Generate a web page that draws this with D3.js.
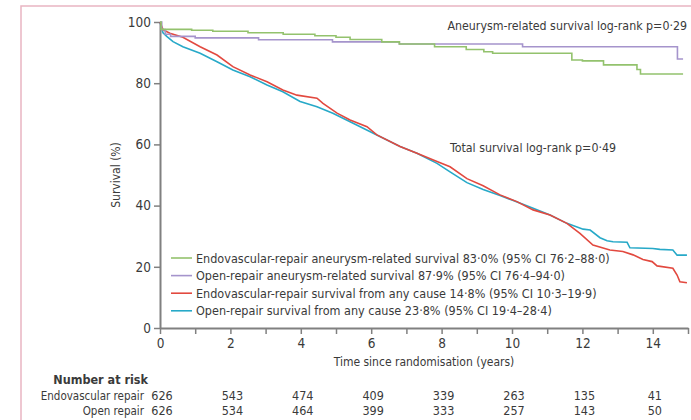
<!DOCTYPE html>
<html>
<head>
<meta charset="utf-8">
<script src="https://cdn.jsdelivr.net/npm/d3@7"></script>
<style>
  body { margin: 0; background: #fff; }
  svg text { font-family: "Liberation Sans Narrow", "DejaVu Sans Condensed", "Noto Sans", sans-serif; fill: #3a3a3a; }
</style>
</head>
<body>
<div id="chart"></div>
<script>
// survival curves, [years, survival %]
let endoAneurysm = [[0, 100], [0.03, 97.6], [0.9, 97.3], [1.5, 97.0], [2.5, 96.5], [3.5, 96.0], [4.4, 95.5],
  [5.0, 95.0], [5.4, 94.3], [6.3, 93.5], [6.8, 92.8], [7.8, 91.9], [8.7, 91.0], [9.2, 90.3], [9.45, 89.8],
  [11.7, 87.6], [12.0, 87.3], [12.6, 86.0], [13.55, 84.5], [13.65, 83.0], [14.86, 83.0]];
let openAneurysm = [[0, 100], [0.05, 97.5], [0.15, 96.0], [0.3, 95.3], [1.0, 94.8], [2.8, 94.2], [4.9, 93.5],
  [6.8, 92.8], [10.3, 91.9], [14.7, 87.9], [14.86, 87.9]];
let endoTotal = [[0, 100], [0.085, 97.5], [0.28, 96.3], [0.65, 95.0], [1.14, 91.9], [1.62, 89.2], [2.07, 85.4],
  [2.56, 82.7], [3.04, 80.5], [3.49, 77.8], [3.89, 76.1], [4.46, 75.1], [4.63, 73.4], [5.03, 70.2], [5.4, 68.0],
  [5.88, 65.8], [6.16, 63.1], [6.82, 59.3], [7.3, 57.1], [7.87, 54.4], [8.24, 52.7], [8.72, 48.8], [9.18, 46.5],
  [9.66, 43.5], [10.14, 41.3], [10.6, 38.6], [11.08, 36.9], [11.56, 34.2], [11.93, 30.9], [12.3, 27.1],
  [12.78, 25.5], [13.15, 25.0], [13.44, 23.9], [13.72, 22.4], [13.98, 21.7], [14.12, 20.3], [14.57, 19.5],
  [14.69, 17.3], [14.77, 15.1], [14.97, 14.8]];
let openTotal = [[0, 100], [0.085, 96.5], [0.2, 95.2], [0.37, 93.6], [0.65, 91.9], [1.14, 89.8], [1.62, 87.0],
  [2.07, 84.3], [2.56, 82.1], [3.04, 79.4], [3.49, 77.2], [3.98, 74.0], [4.46, 72.3], [4.91, 70.2], [5.4, 67.4],
  [6.16, 63.1], [6.82, 59.3], [7.3, 57.1], [7.87, 53.8], [8.24, 51.0], [8.72, 47.5], [9.18, 45.3], [9.66, 43.3],
  [10.0, 41.8], [10.6, 39.1], [11.08, 36.9], [11.56, 34.2], [12.02, 32.3], [12.22, 32.0], [12.5, 29.5],
  [12.7, 28.5], [12.87, 28.2], [13.27, 28.0], [13.35, 26.2], [14.0, 26.0], [14.2, 25.7], [14.57, 25.5],
  [14.69, 23.8], [14.97, 23.8]];

let legendLabels = [
  "Endovascular-repair aneurysm-related survival 83·0% (95% CI 76·2–88·0)",
  "Open-repair aneurysm-related survival 87·9% (95% CI 76·4–94·0)",
  "Endovascular-repair survival from any cause 14·8% (95% CI 10·3–19·9)",
  "Open-repair survival from any cause 23·8% (95% CI 19·4–28·4)"
];
let colors = ["#93c26d", "#a594cc", "#e2493f", "#27a9c8"];

let yTicks = [0, 20, 40, 60, 80, 100];
let xTicks = d3.range(0, 16);
let xLabels = [0, 2, 4, 6, 8, 10, 12, 14];

let riskTimes = [0, 2, 4, 6, 8, 10, 12, 14];
let riskEndo = [626, 543, 474, 409, 339, 263, 135, 41];
let riskOpen = [626, 534, 464, 399, 333, 257, 143, 50];

let svgWidth = 691;
let svgHeight = 420;

let svg = d3.select('#chart').append('svg')
  .attr('width', svgWidth)
  .attr('height', svgHeight);

// pink frame at top/left
svg.append('path')
  .attr('d', 'M21,420 V6 H691')
  .attr('fill', 'none')
  .attr('stroke', '#e9b5c2')
  .attr('stroke-width', 1.5);

let x = d3.scaleLinear().domain([0, 15]).range([160, 688]);
let y = d3.scaleLinear().domain([0, 100]).range([328, 22]);

let xAxis = svg.append('g')
  .attr('transform', 'translate(0,328)')
  .call(d3.axisBottom(x).tickValues(xTicks).tickSize(6).tickSizeOuter(0)
    .tickFormat(d => xLabels.includes(d) ? d : ''));
let yAxis = svg.append('g')
  .attr('transform', 'translate(160,0)')
  .call(d3.axisLeft(y).tickValues(yTicks).tickSize(6).tickSizeOuter(0));

[xAxis, yAxis].forEach(function (g) {
  g.select('.domain').attr('stroke', '#808080').attr('stroke-width', 2);
  g.selectAll('.tick line').attr('stroke', '#808080').attr('stroke-width', 1.5);
  g.selectAll('.tick text').attr('font-size', 13.5).attr('fill', '#3a3a3a')
    .style('font-family', '"Liberation Sans Narrow", "DejaVu Sans Condensed", "Noto Sans", sans-serif');
});
xAxis.selectAll('.tick text').attr('dy', '0.85em');
yAxis.selectAll('.tick text').attr('x', -9);

svg.append('text')
  .attr('x', 424).attr('y', 366)
  .attr('text-anchor', 'middle')
  .attr('font-size', 12)
  .text('Time since randomisation (years)');

svg.append('text')
  .attr('transform', 'translate(120,175) rotate(-90)')
  .attr('text-anchor', 'middle')
  .attr('font-size', 12)
  .text('Survival (%)');

let line = d3.line().x(d => x(d[0])).y(d => y(d[1]));
let stepLine = d3.line().x(d => x(d[0])).y(d => y(d[1])).curve(d3.curveStepAfter);

let curves = [
  { data: endoAneurysm, gen: stepLine, color: colors[0] },
  { data: openAneurysm, gen: stepLine, color: colors[1] },
  { data: endoTotal, gen: line, color: colors[2] },
  { data: openTotal, gen: line, color: colors[3] }
];
// draw total curves first, then aneurysm related on top
[3, 2, 1, 0].forEach(function (i) {
  svg.append('path')
    .attr('d', curves[i].gen(curves[i].data))
    .attr('fill', 'none')
    .attr('stroke', curves[i].color)
    .attr('stroke-width', 1.6);
});

svg.append('text')
  .attr('x', 687).attr('y', 30)
  .attr('text-anchor', 'end')
  .attr('font-size', 12.3)
  .text('Aneurysm-related survival log-rank p=0·29');

svg.append('text')
  .attr('x', 450).attr('y', 152)
  .attr('font-size', 12.3)
  .text('Total survival log-rank p=0·49');

let legend = svg.append('g');
legendLabels.forEach(function (lab, i) {
  let ly = 258 + i * 17.6;
  legend.append('line')
    .attr('x1', 171).attr('x2', 192)
    .attr('y1', ly).attr('y2', ly)
    .attr('stroke', colors[i]).attr('stroke-width', 1.6);
  legend.append('text')
    .attr('x', 196).attr('y', ly + 4.5)
    .attr('font-size', 12.5)
    .text(lab);
});

// number at risk table
svg.append('text')
  .attr('x', 148).attr('y', 384)
  .attr('text-anchor', 'end')
  .attr('font-size', 12.5)
  .attr('font-weight', 'bold')
  .attr('fill', '#222')
  .text('Number at risk');

[['Endovascular repair', riskEndo, 400], ['Open repair', riskOpen, 415]].forEach(function (row) {
  svg.append('text')
    .attr('x', 144).attr('y', row[2])
    .attr('text-anchor', 'end')
    .attr('font-size', 11.5)
    .text(row[0]);
  svg.selectAll(null)
    .data(row[1])
    .enter()
    .append('text')
    .attr('x', (d, i) => x(riskTimes[i]) + 2)
    .attr('y', row[2])
    .attr('text-anchor', 'middle')
    .attr('font-size', 12.5)
    .text(d => d);
});
</script>
</body>
</html>
